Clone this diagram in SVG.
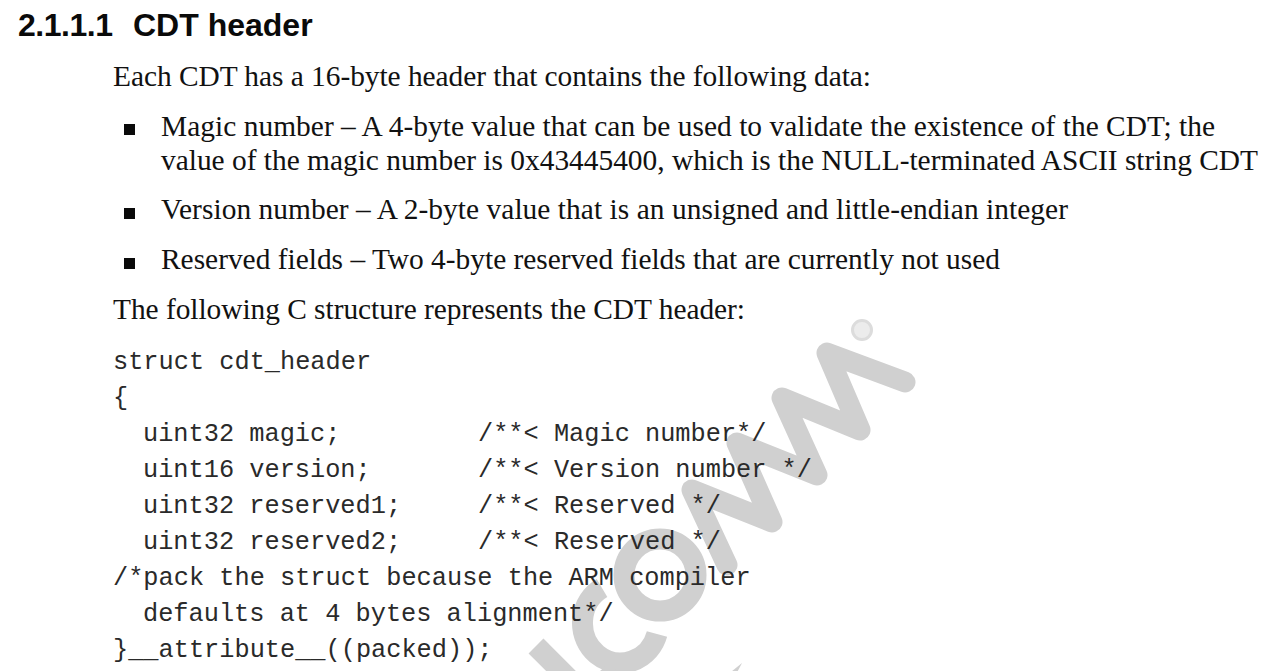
<svg xmlns="http://www.w3.org/2000/svg" width="1273" height="671" viewBox="0 0 1273 671">
<style>
.h{font-family:"Liberation Sans",Arial,sans-serif;font-weight:bold;font-size:32px;fill:#0a0a0a}
.t{font-family:"Liberation Serif","Times New Roman",serif;font-size:29.4px;fill:#111}
.c{font-family:"Liberation Mono","Courier New",monospace;font-size:25.3px;fill:#2a2a2a;white-space:pre}
.w{stroke:#d0d0d0;stroke-width:21;fill:none;stroke-linejoin:round;stroke-linecap:round}
.b{fill:#0a0a0a}
</style>
<rect width="1273" height="671" fill="#fff"/>
<g id="watermark">
<path class="w" d="M905 382L827 353L860 430L782 398L817 475L737 443L772 522L692 490L727 565"/>
<circle class="w" cx="660" cy="575" r="36"/>
<path class="w" style="stroke-linecap:butt" d="M602 588A38 40 0 1 0 657 634"/>
<path class="w" style="stroke-linecap:butt" d="M536 646L585 695"/>
<path d="M742 663L726 676L733 680Z" fill="#d0d0d0"/>
<path d="M600 671L607 665L618 671Z" fill="#d0d0d0"/>
<circle cx="862" cy="330" r="9.5" fill="#ececec" stroke="#dcdcdc" stroke-width="3"/>
</g>
<text class="h" x="18" y="36" textLength="95">2.1.1.1</text><text class="h" x="133" y="36">CDT header</text>
<text class="t" x="113" y="86" textLength="758">Each CDT has a 16-byte header that contains the following data:</text>
<rect class="b" x="124" y="124" width="11" height="11"/>
<text class="t" x="161" y="136" textLength="1054">Magic number – A 4-byte value that can be used to validate the existence of the CDT; the</text>
<text class="t" x="161" y="170" textLength="1097">value of the magic number is 0x43445400, which is the NULL-terminated ASCII string CDT</text>
<rect class="b" x="124" y="208" width="11" height="11"/>
<text class="t" x="161" y="219" textLength="907">Version number – A 2-byte value that is an unsigned and little-endian integer</text>
<rect class="b" x="124" y="258" width="11" height="11"/>
<text class="t" x="161" y="269" textLength="839">Reserved fields – Two 4-byte reserved fields that are currently not used</text>
<text class="t" x="113" y="319" textLength="632">The following C structure represents the CDT header:</text>
<text class="c" x="113" y="369">struct cdt_header</text>
<text class="c" x="113" y="405">{</text>
<text class="c" x="143" y="441">uint32 magic;</text><text class="c" x="478" y="441">/**&lt; Magic number*/</text>
<text class="c" x="143" y="477">uint16 version;</text><text class="c" x="478" y="477">/**&lt; Version number */</text>
<text class="c" x="143" y="513">uint32 reserved1;</text><text class="c" x="478" y="513">/**&lt; Reserved */</text>
<text class="c" x="143" y="549">uint32 reserved2;</text><text class="c" x="478" y="549">/**&lt; Reserved */</text>
<text class="c" x="113" y="585">/*pack the struct because the ARM compiler</text>
<text class="c" x="143" y="621">defaults at 4 bytes alignment*/</text>
<text class="c" x="113" y="657">}__attribute__((packed));</text>
</svg>
